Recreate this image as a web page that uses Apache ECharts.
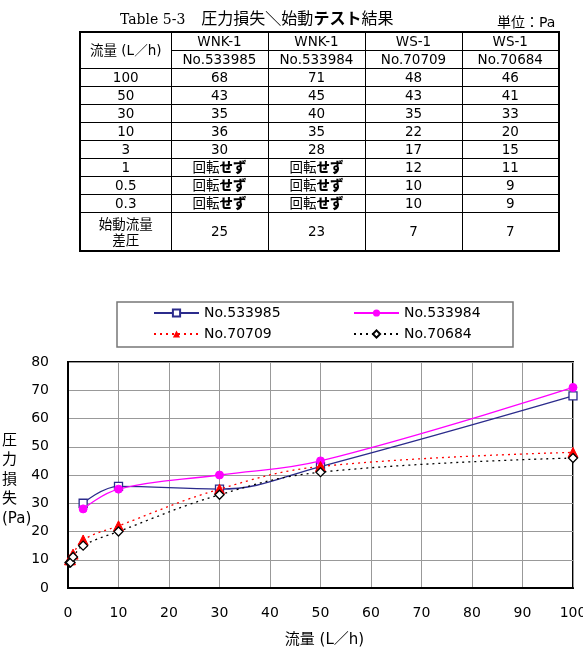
<!DOCTYPE html>
<html>
<head>
<meta charset="utf-8">
<script src="https://cdn.jsdelivr.net/npm/echarts@6/dist/echarts.min.js"></script>
<style>
  html, body { margin:0; padding:0; background:#fff; }
  #chart { position:absolute; left:0; top:0; width:583px; height:655px; }
  #title { position:absolute; left:120px; top:5px; font-size:16px; white-space:nowrap; font-family:'Noto Sans CJK JP', sans-serif; }
  #title .en { font-family:'DejaVu Serif', serif; font-size:14px; }
  #unit { position:absolute; left:497px; top:11px; font-size:14px; font-family:'DejaVu Sans','Noto Sans CJK JP', sans-serif; }
  #tbl { position:absolute; left:79px; top:31px; border-collapse:collapse; table-layout:fixed; border:2px solid #000;
         font-family:'DejaVu Sans','Noto Sans CJK JP', sans-serif; font-size:13.5px; }
  #tbl td { border:1px solid #000; text-align:center; padding:0; height:17px; line-height:15px; }
  #tbl td.last { height:37px; }
  #tbl b { font-weight:900; }
</style>
</head>
<body>
<div id="chart"></div>
<div id="title"><span class="en">Table 5-3</span>　圧力損失<b>＼</b>始動<b>テスト</b>結果</div>
<div id="unit">単位：Pa</div>
<table id="tbl"></table>
<script>
// ---- data ----
const flowLabels = ['100', '50', '30', '10', '3', '1', '0.5', '0.3'];
const flows = [100, 50, 30, 10, 3, 1, 0.5, 0.3];
const models = ['WNK-1', 'WNK-1', 'WS-1', 'WS-1'];
const serials = ['No.533985', 'No.533984', 'No.70709', 'No.70684'];
const s533985 = [68, 43, 35, 36, 30, null, null, null];
const s533984 = [71, 45, 40, 35, 28, null, null, null];
const s70709 = [48, 43, 35, 22, 17, 12, 10, 10];
const s70684 = [46, 41, 33, 20, 15, 11, 9, 9];
const startDiff = ['25', '23', '7', '7'];
const xTicks = [0, 100, 10];
const yTicks = [0, 80, 10];

// ---- table ----
const cols = [s533985, s533984, s70709, s70684];
const widths = [91, 97, 97, 97, 97];
let html = '<colgroup>' + widths.map(w => '<col style="width:' + w + 'px">').join('') + '</colgroup>';
html += '<tr><td rowspan="2">流量 (L／h)</td>' + models.map(m => '<td>' + m + '</td>').join('') + '</tr>';
html += '<tr>' + serials.map(s => '<td>' + s + '</td>').join('') + '</tr>';
flowLabels.forEach((f, i) => {
  html += '<tr><td>' + f + '</td>' + cols.map(c => '<td>' + (c[i] == null ? '回転<b>せず</b>' : c[i]) + '</td>').join('') + '</tr>';
});
html += '<tr><td class="last" style="line-height:16px">始動流量<br>差圧</td>' + startDiff.map(v => '<td class="last">' + v + '</td>').join('') + '</tr>';
document.getElementById('tbl').innerHTML = html;

// ---- chart ----
function pairs(vals) {
  const out = [];
  for (let i = flows.length - 1; i >= 0; i--) if (vals[i] != null) out.push([flows[i], vals[i]]);
  return out;
}
const FONT = "'DejaVu Sans', 'Noto Sans CJK JP', sans-serif";
const navy = '#2b2b8c', magenta = '#ff00ff', red = '#ff0000', black = '#000000';

const chart = echarts.init(document.getElementById('chart'), null, { renderer: 'canvas' });
function legendAt(name, left, top) {
  return { data: [name], left: left, top: top, itemWidth: 45, itemHeight: 9, itemGap: 5,
    textStyle: { fontSize: 14, color: '#000', fontFamily: FONT }, padding: 0, selectedMode: false };
}
chart.setOption({
  animation: false,
  textStyle: { fontFamily: FONT },
  grid: { left: 68, right: 10, top: 362, bottom: 67, show: true, borderColor: '#000', borderWidth: 2,
          containLabel: false, outerBoundsMode: 'none' },
  legend: [
    legendAt(serials[0], 153, 306),
    legendAt(serials[1], 353, 306),
    legendAt(serials[2], 153, 327),
    legendAt(serials[3], 353, 327)
  ],
  xAxis: {
    type: 'value', min: xTicks[0], max: xTicks[1], interval: xTicks[2],
    axisLine: { show: true, lineStyle: { color: '#000', width: 2 } },
    axisTick: { show: false },
    axisLabel: { color: '#000', fontSize: 14, margin: 18, fontFamily: FONT },
    splitLine: { show: true, lineStyle: { color: '#999', width: 1 } },
    name: '流量 (L／h)', nameLocation: 'middle', nameGap: 45,
    nameTextStyle: { fontSize: 15, color: '#000', fontFamily: FONT, padding: [0, 0, 0, 8] }
  },
  yAxis: {
    type: 'value', min: yTicks[0], max: yTicks[1], interval: yTicks[2],
    axisLine: { show: true, lineStyle: { color: '#000', width: 2 } },
    axisTick: { show: false },
    axisLabel: { color: '#000', fontSize: 14, margin: 19, fontFamily: FONT },
    splitLine: { show: true, lineStyle: { color: '#999', width: 1 } }
  },
  graphic: [
    { type: 'text', left: 2, top: 431, style: { text: '圧\n力\n損\n失\n(Pa)', fontSize: 15, lineHeight: 19.5, fill: '#000', align: 'center', fontFamily: FONT, x: 10 } },
    { type: 'rect', shape: { x: 117, y: 302, width: 396, height: 45 }, style: { fill: 'none', stroke: '#777', lineWidth: 1.5 }, z: -1 }
  ],
  series: [
    { name: serials[0], type: 'line', smooth: 0.4, data: pairs(s533985), symbol: 'rect', symbolSize: 8,
      lineStyle: { color: navy, width: 1.3 }, itemStyle: { color: '#fff', borderColor: navy, borderWidth: 1.3 }, z: 3 },
    { name: serials[1], type: 'line', smooth: 0.4, data: pairs(s533984), symbol: 'circle', symbolSize: 8,
      lineStyle: { color: magenta, width: 1.3 }, itemStyle: { color: magenta, borderColor: magenta }, z: 4 },
    { name: serials[2], type: 'line', smooth: 0.4, data: pairs(s70709), symbol: 'triangle', symbolSize: 10,
      lineStyle: { color: red, width: 1.3, type: [2, 4] }, itemStyle: { color: red, borderColor: red }, z: 5 },
    { name: serials[3], type: 'line', smooth: 0.4, data: pairs(s70684), symbol: 'diamond', symbolSize: 9,
      lineStyle: { color: black, width: 1.3, type: [2, 4] }, itemStyle: { color: '#fff', borderColor: black, borderWidth: 1.3 }, z: 6 }
  ]
});
</script>
</body>
</html>
